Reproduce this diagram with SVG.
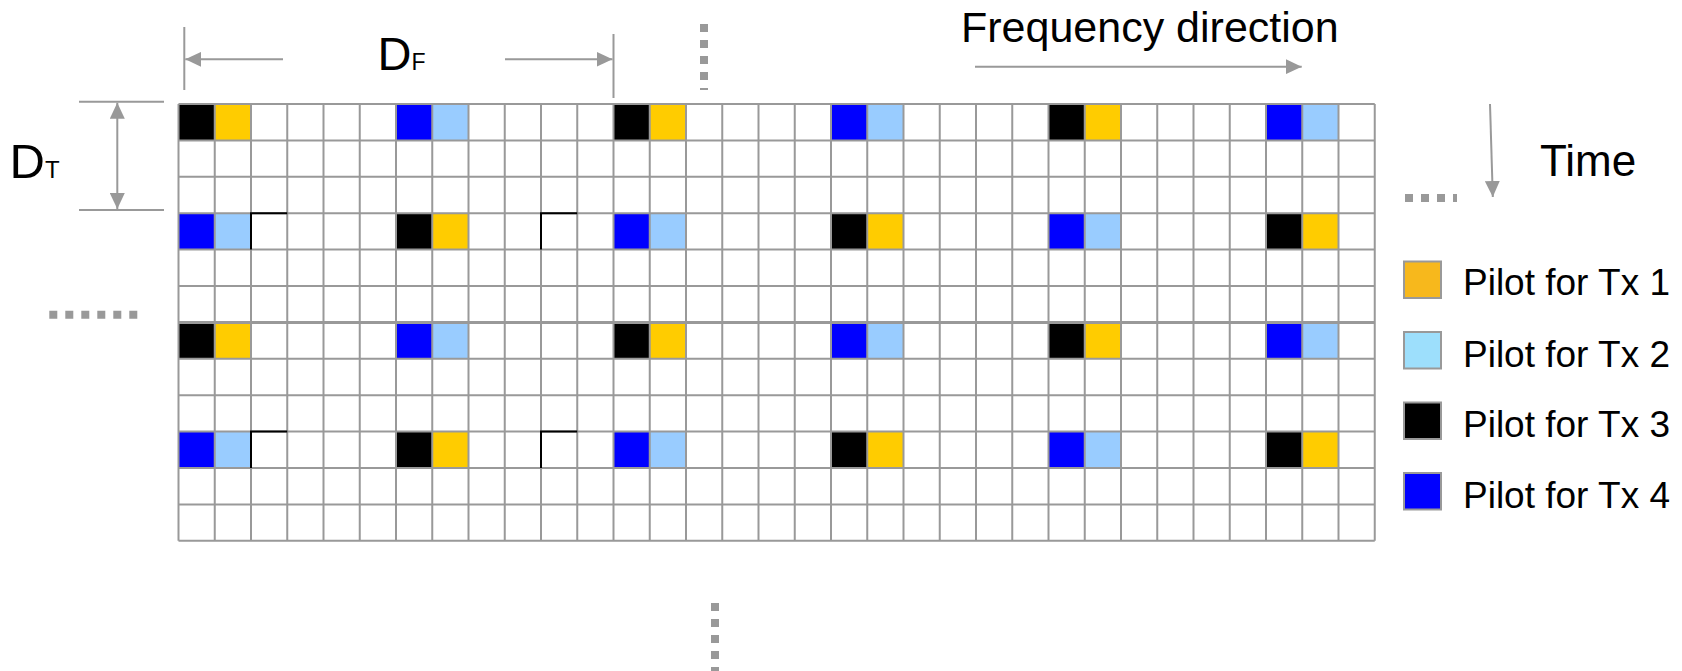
<svg xmlns="http://www.w3.org/2000/svg" width="1682" height="671" viewBox="0 0 1682 671">
<defs>
<style>
.g{stroke:#999999;stroke-width:2;fill:none}
.gl{stroke:#999999;stroke-width:2;fill:none}
.dot{stroke:#999999;stroke-width:8;stroke-dasharray:8 8;fill:none}
.t{font-family:"Liberation Sans",Arial,sans-serif;fill:#000000}
.k{fill:#000000}
.y{fill:#FFCC00}
.b{fill:#0000FF}
.lb{fill:#99CCFF}
.ol{stroke:#000000;stroke-width:2;fill:none}
.lg{stroke:#999999;stroke-width:2}
</style>
<marker id="ah" viewBox="0 0 16 15" refX="16" refY="7.5" markerWidth="16" markerHeight="15" markerUnits="userSpaceOnUse" orient="auto-start-reverse">
<path d="M0,0 L16,7.5 L0,15 Z" fill="#999999"/>
</marker>
</defs>
<rect width="1682" height="671" fill="#ffffff"/>

<g id="pilots">
<rect class="k" x="178.5" y="104" width="36.25" height="36.4"/>
<rect class="y" x="214.75" y="104" width="36.25" height="36.4"/>
<rect class="b" x="396" y="104" width="36.25" height="36.4"/>
<rect class="lb" x="432.25" y="104" width="36.25" height="36.4"/>
<rect class="k" x="613.5" y="104" width="36.25" height="36.4"/>
<rect class="y" x="649.75" y="104" width="36.25" height="36.4"/>
<rect class="b" x="831" y="104" width="36.25" height="36.4"/>
<rect class="lb" x="867.25" y="104" width="36.25" height="36.4"/>
<rect class="k" x="1048.5" y="104" width="36.25" height="36.4"/>
<rect class="y" x="1084.75" y="104" width="36.25" height="36.4"/>
<rect class="b" x="1266" y="104" width="36.25" height="36.4"/>
<rect class="lb" x="1302.25" y="104" width="36.25" height="36.4"/>

<rect class="b" x="178.5" y="213.2" width="36.25" height="36.4"/>
<rect class="lb" x="214.75" y="213.2" width="36.25" height="36.4"/>
<rect class="k" x="396" y="213.2" width="36.25" height="36.4"/>
<rect class="y" x="432.25" y="213.2" width="36.25" height="36.4"/>
<rect class="b" x="613.5" y="213.2" width="36.25" height="36.4"/>
<rect class="lb" x="649.75" y="213.2" width="36.25" height="36.4"/>
<rect class="k" x="831" y="213.2" width="36.25" height="36.4"/>
<rect class="y" x="867.25" y="213.2" width="36.25" height="36.4"/>
<rect class="b" x="1048.5" y="213.2" width="36.25" height="36.4"/>
<rect class="lb" x="1084.75" y="213.2" width="36.25" height="36.4"/>
<rect class="k" x="1266" y="213.2" width="36.25" height="36.4"/>
<rect class="y" x="1302.25" y="213.2" width="36.25" height="36.4"/>

<rect class="k" x="178.5" y="322.4" width="36.25" height="36.4"/>
<rect class="y" x="214.75" y="322.4" width="36.25" height="36.4"/>
<rect class="b" x="396" y="322.4" width="36.25" height="36.4"/>
<rect class="lb" x="432.25" y="322.4" width="36.25" height="36.4"/>
<rect class="k" x="613.5" y="322.4" width="36.25" height="36.4"/>
<rect class="y" x="649.75" y="322.4" width="36.25" height="36.4"/>
<rect class="b" x="831" y="322.4" width="36.25" height="36.4"/>
<rect class="lb" x="867.25" y="322.4" width="36.25" height="36.4"/>
<rect class="k" x="1048.5" y="322.4" width="36.25" height="36.4"/>
<rect class="y" x="1084.75" y="322.4" width="36.25" height="36.4"/>
<rect class="b" x="1266" y="322.4" width="36.25" height="36.4"/>
<rect class="lb" x="1302.25" y="322.4" width="36.25" height="36.4"/>

<rect class="b" x="178.5" y="431.6" width="36.25" height="36.4"/>
<rect class="lb" x="214.75" y="431.6" width="36.25" height="36.4"/>
<rect class="k" x="396" y="431.6" width="36.25" height="36.4"/>
<rect class="y" x="432.25" y="431.6" width="36.25" height="36.4"/>
<rect class="b" x="613.5" y="431.6" width="36.25" height="36.4"/>
<rect class="lb" x="649.75" y="431.6" width="36.25" height="36.4"/>
<rect class="k" x="831" y="431.6" width="36.25" height="36.4"/>
<rect class="y" x="867.25" y="431.6" width="36.25" height="36.4"/>
<rect class="b" x="1048.5" y="431.6" width="36.25" height="36.4"/>
<rect class="lb" x="1084.75" y="431.6" width="36.25" height="36.4"/>
<rect class="k" x="1266" y="431.6" width="36.25" height="36.4"/>
<rect class="y" x="1302.25" y="431.6" width="36.25" height="36.4"/>
</g>

<g id="grid" class="g">
<path d="M178.5,104V540.8M214.75,104V540.8M251,104V540.8M287.25,104V540.8M323.5,104V540.8M359.75,104V540.8M396,104V540.8M432.25,104V540.8M468.5,104V540.8M504.75,104V540.8M541,104V540.8M577.25,104V540.8M613.5,104V540.8M649.75,104V540.8M686,104V540.8M722.25,104V540.8M758.5,104V540.8M794.75,104V540.8M831,104V540.8M867.25,104V540.8M903.5,104V540.8M939.75,104V540.8M976,104V540.8M1012.25,104V540.8M1048.5,104V540.8M1084.75,104V540.8M1121,104V540.8M1157.25,104V540.8M1193.5,104V540.8M1229.75,104V540.8M1266,104V540.8M1302.25,104V540.8M1338.5,104V540.8M1374.75,104V540.8"/>
<path d="M178.5,104H1374.75M178.5,140.4H1374.75M178.5,176.8H1374.75M178.5,213.2H1374.75M178.5,249.6H1374.75M178.5,286H1374.75M178.5,358.8H1374.75M178.5,395.2H1374.75M178.5,431.6H1374.75M178.5,468H1374.75M178.5,504.4H1374.75M178.5,540.8H1374.75"/>
<path d="M178.5,322.4H1374.75" stroke-width="3"/>
</g>

<g id="outlined-cells" class="ol">
<path d="M251,249.6V213.2H287.25"/>
<path d="M541,249.6V213.2H577.25"/>
<path d="M251,468V431.6H287.25"/>
<path d="M541,468V431.6H577.25"/>
</g>

<g id="connectors">
<path class="gl" d="M184.3,27V90"/>
<path class="gl" d="M613.5,34V98"/>
<path class="gl" d="M283,59.3H185.3" marker-end="url(#ah)"/>
<path class="gl" d="M505,59.3H612.5" marker-end="url(#ah)"/>
<path class="gl" d="M79,101.7H164M79,210H164"/>
<path class="gl" d="M117.3,102.7V209" marker-start="url(#ah)" marker-end="url(#ah)"/>
<path class="gl" d="M975,66.7H1301.7" marker-end="url(#ah)"/>
<path class="gl" d="M1490,104L1492.8,197" marker-end="url(#ah)"/>
<path class="dot" d="M704,24V90"/>
<path class="dot" d="M715,603V671"/>
<path class="dot" d="M49.3,314.7H137.3"/>
<path class="dot" d="M1405,198H1457"/>
</g>

<g id="label-df">
<text class="t" x="377.5" y="70" font-size="47">D<tspan font-size="23">F</tspan></text>
</g>
<g id="label-dt">
<text class="t" x="9.5" y="178" font-size="49">D<tspan font-size="24">T</tspan></text>
</g>
<g id="label-freq">
<text class="t" x="961" y="42" font-size="43">Frequency direction</text>
</g>
<g id="label-time">
<text class="t" x="1540" y="176" font-size="44">Time</text>
</g>

<g id="legend-tx1">
<rect class="lg" x="1404" y="261.5" width="37" height="36.5" fill="#F7B81C"/>
<text class="t" x="1463" y="295" font-size="37">Pilot for Tx 1</text>
</g>
<g id="legend-tx2">
<rect class="lg" x="1404" y="332" width="37" height="36.5" fill="#9DDFFC"/>
<text class="t" x="1463" y="366.5" font-size="37">Pilot for Tx 2</text>
</g>
<g id="legend-tx3">
<rect class="lg" x="1404" y="402.5" width="37" height="36.5" fill="#000000"/>
<text class="t" x="1463" y="437" font-size="37">Pilot for Tx 3</text>
</g>
<g id="legend-tx4">
<rect class="lg" x="1404" y="473" width="37" height="36.5" fill="#0000FF"/>
<text class="t" x="1463" y="508" font-size="37">Pilot for Tx 4</text>
</g>
</svg>
